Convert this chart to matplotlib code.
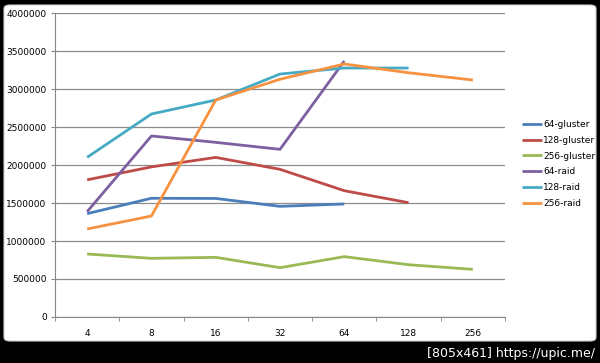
import numpy as np
import matplotlib.pyplot as plt
from matplotlib.patches import FancyBboxPatch

categories = ['4', '8', '16', '32', '64', '128', '256']

gluster_64 = [1360000, 1562000, 1560000, 1456000, 1487000]
gluster_128 = [1805000, 1975000, 2100000, 1943000, 1662000, 1504000]
gluster_256 = [829000, 772000, 785000, 649000, 794000, 688000, 627000]
raid_64 = [1386000, 2382000, 2298000, 2206000, 3368000]
raid_128 = [2101000, 2671000, 2855000, 3197000, 3276000, 3276000]
raid_256 = [1158000, 1329000, 2855000, 3128000, 3329000, 3214000, 3118000]

series = [
    ('64-gluster', gluster_64, '#4A7EBB'),
    ('128-gluster', gluster_128, '#BE4B48'),
    ('256-gluster', gluster_256, '#98B954'),
    ('64-raid', raid_64, '#7D60A0'),
    ('128-raid', raid_128, '#46AAC5'),
    ('256-raid', raid_256, '#F69240'),
]

fig = plt.figure(figsize=(6, 3.63), dpi=100, facecolor='black')
# white chart frame
frame = FancyBboxPatch((4 / 600, 22 / 363), 592 / 600, 336 / 363,
                       boxstyle='round,pad=0,rounding_size=0.01',
                       transform=fig.transFigure, facecolor='white',
                       edgecolor='#d0d0d0', lw=0.8, zorder=-10)
fig.patches.append(frame)

ax = fig.add_axes([55 / 600, 1 - 317 / 363, 450 / 600, 304 / 363])
ax.set_zorder(5)
ax.set_facecolor('none')

x = np.arange(len(categories))
for name, vals, col in series:
    ax.plot(x[:len(vals)], vals, color=col, lw=2, label=name, solid_capstyle='butt')

ax.set_xlim(-0.5, len(categories) - 0.5)
ax.set_ylim(0, 4000000)
ax.set_yticks(np.arange(0, 4000001, 500000))
ax.set_yticklabels([str(v) for v in range(0, 4000001, 500000)])
ax.set_xticks(x)
ax.set_xticklabels(categories)
ax.set_xticks(np.arange(-0.5, len(categories), 1), minor=True)
ax.tick_params(axis='x', which='major', length=0, pad=9, labelsize=6.5)
ax.tick_params(axis='x', which='minor', length=3, color='#868686', direction='out')
ax.tick_params(axis='y', length=3, color='#868686', labelsize=6.5, pad=3)
ax.grid(axis='y', color='#8c8c8c', lw=0.9)
ax.set_axisbelow(True)
for s in ['top', 'right']:
    ax.spines[s].set_visible(False)
for s in ['left', 'bottom']:
    ax.spines[s].set_color('#868686')

ax.legend(loc='upper left', bbox_to_anchor=(1.03, 0.66), frameon=False,
          fontsize=6.5, handlelength=2.2, handletextpad=0.1, labelspacing=0.75,
          borderaxespad=0)

fig.text(595 / 600, 1 - 353 / 363, '[805x461] https://upic.me/', color='white',
         fontsize=9, ha='right', va='center', family='DejaVu Sans')

fig.savefig('out.png', dpi=100, facecolor='black')
